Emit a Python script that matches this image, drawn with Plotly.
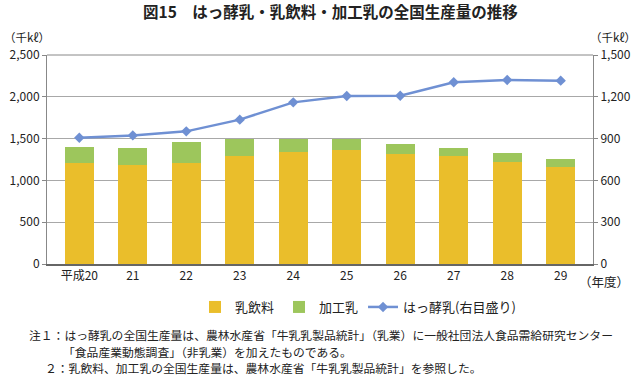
import plotly.graph_objects as go

years = ["平成20", "21", "22", "23", "24", "25", "26", "27", "28", "29"]
milk_drink = [1205, 1180, 1212, 1292, 1344, 1364, 1316, 1292, 1220, 1160]
processed_milk = [195, 207, 243, 199, 147, 135, 123, 100, 104, 96]
fermented_milk = [906, 923, 952, 1036, 1160, 1206, 1208, 1304, 1321, 1316]

left_ticks = [0, 500, 1000, 1500, 2000, 2500]
left_tick_text = ["0", "500", "1,000", "1,500", "2,000", "2,500"]
right_ticks = [0, 300, 600, 900, 1200, 1500]
right_tick_text = ["0", "300", "600", "900", "1,200", "1,500"]

FONT = "Noto Sans CJK JP, Noto Sans, sans-serif"
YELLOW = "#EABE2B"
GREEN = "#9DC65C"
BLUE = "#6F90D3"

W, H = 640, 377
PL, PR, PT, PB = 47, 593, 55, 264  # plot area in pixels


def px(x):
    return (x - PL) / (PR - PL)


def py(y):
    return 1 - (y - PT) / (PB - PT)


fig = go.Figure()
fig.add_trace(go.Bar(x=years, y=milk_drink, name="乳飲料", marker_color=YELLOW,
                     marker_line_width=0))
fig.add_trace(go.Bar(x=years, y=processed_milk, name="加工乳", marker_color=GREEN,
                     marker_line_width=0))
fig.add_trace(go.Scatter(x=years, y=fermented_milk, name="はっ酵乳(右目盛り)", yaxis="y2",
                         mode="lines+markers",
                         line=dict(color=BLUE, width=2.5),
                         marker=dict(symbol="diamond", size=8, color=BLUE)))

fig.update_layout(
    width=W, height=H,
    margin=dict(l=PL, r=W - PR, t=PT, b=H - PB, autoexpand=False),
    paper_bgcolor="white", plot_bgcolor="white",
    barmode="stack", bargap=0.46,
    font=dict(family=FONT, size=12, color="#222"),
    showlegend=True,
    legend=dict(orientation="h", x=px(358), xanchor="center", y=py(292), yanchor="top",
                font=dict(size=13, color="#222"), traceorder="normal",
                itemwidth=30, bgcolor="rgba(0,0,0,0)"),
    xaxis=dict(showgrid=False, showline=True, linecolor="#666", linewidth=1.5,
               ticks="", tickfont=dict(size=12), mirror=False),
    yaxis=dict(range=[0, 2500], tickvals=left_ticks, ticktext=left_tick_text,
               showgrid=True, gridcolor="#A8A8A8", gridwidth=1,
               showline=True, linecolor="#888", linewidth=1,
               ticks="outside", ticklen=4, tickcolor="#888",
               tickfont=dict(size=12), zeroline=False),
    yaxis2=dict(range=[0, 1500], tickvals=right_ticks, ticktext=right_tick_text,
                overlaying="y", side="right", showgrid=False,
                showline=True, linecolor="#888", linewidth=1,
                ticks="outside", ticklen=4, tickcolor="#888",
                tickfont=dict(size=12), zeroline=False),
)

# top border of plot area
fig.add_shape(type="line", xref="paper", yref="paper", x0=0, x1=1, y0=1, y1=1,
              line=dict(color="#888", width=1))

annotations = [
    dict(text="<b>図15　はっ酵乳・乳飲料・加工乳の全国生産量の推移</b>", x=330, y=11,
         anchor="center", font=dict(size=15.5, color="#222")),
    dict(text="（千kℓ）", x=2, y=37, anchor="left", font=dict(size=11.5)),
    dict(text="（千kℓ）", x=638, y=37, anchor="right", font=dict(size=11.5)),
    dict(text="（年度）", x=604, y=281, anchor="center", font=dict(size=12.5)),
]
for a in annotations:
    fig.add_annotation(text=a["text"], xref="paper", yref="paper",
                       x=px(a["x"]), y=py(a["y"]),
                       xanchor=a["anchor"], yanchor="middle", showarrow=False,
                       font=dict(family=FONT, **a["font"]))

notes = [
    ("注１：はっ酵乳の全国生産量は、農林水産省「牛乳乳製品統計」（乳業）に一般社団法人食品需給研究センター", 27, 334),
    ("「食品産業動態調査」（非乳業）を加えたものである。", 61, 351),
    ("２：乳飲料、加工乳の全国生産量は、農林水産省「牛乳乳製品統計」を参照した。", 43, 367),
]
for text, x, y in notes:
    fig.add_annotation(text=text, xref="paper", yref="paper",
                       x=px(x), y=py(y),
                       xanchor="left", yanchor="middle", showarrow=False,
                       font=dict(family=FONT, size=11.8, color="#222"))

fig.write_html("out.html", config={"displayModeBar": False},
               post_script="document.body.style.margin='0';document.body.style.overflow='hidden';")
